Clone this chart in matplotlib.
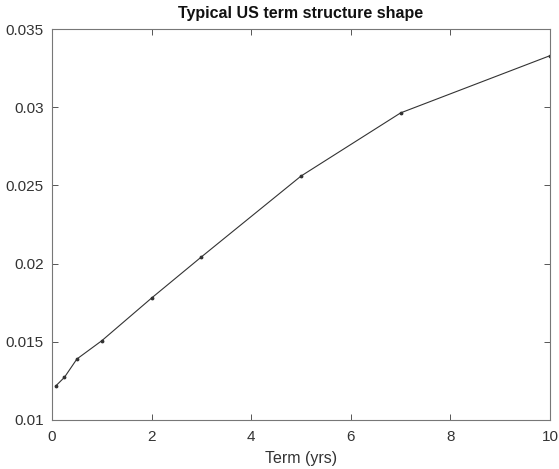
import matplotlib
matplotlib.use("Agg")
import matplotlib.pyplot as plt

plt.rcParams['font.family'] = ['Liberation Sans', 'DejaVu Sans']

# term points (years) and yields
term = [0.083, 0.25, 0.5, 1, 2, 3, 5, 7, 10]
rates = [0.0122, 0.01273, 0.0139, 0.01507, 0.0178, 0.02043, 0.0256, 0.02964, 0.0333]

fig = plt.figure(figsize=(5.59, 4.69), dpi=100)
ax = fig.add_axes([0.093, 0.1045, 0.891, 0.8335])

ax.plot(term, rates, color='#333333', linewidth=0.8, marker='.', markersize=3.5)

ax.set_xlim(0, 10)
ax.set_ylim(0.01, 0.035)
ax.set_xticks([0, 2, 4, 6, 8, 10])
ax.set_yticks([0.01, 0.015, 0.02, 0.025, 0.03, 0.035])
ax.set_yticklabels(['0.01', '0.015', '0.02', '0.025', '0.03', '0.035'])

ax.tick_params(direction='in', top=True, right=True, length=4, width=0.7,
               colors='#555555', labelcolor='#333333', labelsize=11)
ax.tick_params(axis='x', pad=7)
ax.tick_params(axis='y', pad=6)
for s in ax.spines.values():
    s.set_color('#777777')
    s.set_linewidth(0.8)

ax.set_xlabel('Term (yrs)', fontsize=11.5, color='#333333', labelpad=5)
ax.set_title('Typical US term structure shape', fontsize=11.5, fontweight='bold',
             color='#111111', pad=8)

fig.savefig('out.png', dpi=100)
